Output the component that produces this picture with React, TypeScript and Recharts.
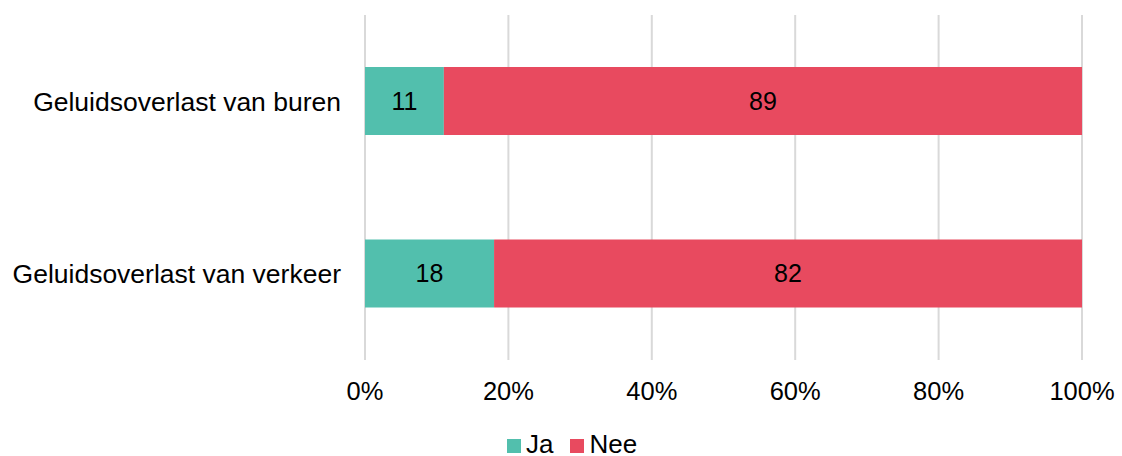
import React from "react";
import { BarChart, Bar, XAxis, YAxis, CartesianGrid, Legend, LabelList } from "recharts";

const categories = ["Geluidsoverlast van buren", "Geluidsoverlast van verkeer"];
const jaValues = [11, 18];
const neeValues = [89, 82];
const xTicks = [0, 20, 40, 60, 80, 100];

const data = categories.map((c, i) => ({ name: c, Ja: jaValues[i], Nee: neeValues[i] }));

const TEAL = "#52BFAD";
const RED = "#E84A5F";

const renderLegend = (props: any) => {
  const { payload } = props;
  return (
    <div style={{ display: "flex", alignItems: "center", height: 20 }}>
      {(payload || []).map((entry: any, i: number) => (
        <div key={i} style={{ display: "flex", alignItems: "center", marginRight: 17 }}>
          <div style={{ width: 14, height: 14, background: entry.color, marginRight: 5, position: "relative", top: 2 }} />
          <span style={{ fontSize: 26, lineHeight: "20px", color: "#000" }}>{entry.value}</span>
        </div>
      ))}
    </div>
  );
};

export default function App() {
  return (
    <div style={{ position: "absolute", left: 0, top: 0, width: 1122, height: 456, background: "#fff", fontFamily: "'Liberation Sans', Arial, sans-serif" }}>
      <BarChart
        width={1122}
        height={456}
        data={data}
        layout="vertical"
        margin={{ top: 15, right: 40, bottom: 0, left: 0 }}
      >
        <CartesianGrid horizontal={false} vertical={true} stroke="#d9d9d9" strokeWidth={2} />
        <XAxis
          type="number"
          domain={[0, 100]}
          ticks={xTicks}
          tickFormatter={(v: number) => `${v}%`}
          axisLine={false}
          tickLine={false}
          tickSize={0}
          tickMargin={22}
          height={56}
          tick={{ fill: "#000", fontSize: 25.5 }}
          interval={0}
        />
        <YAxis
          type="category"
          dataKey="name"
          width={365}
          axisLine={false}
          tickLine={false}
          tickSize={0}
          tickMargin={24}
          tick={{ fill: "#000", fontSize: 26.5 }}
        />
        <Legend
          verticalAlign="bottom"
          height={40}
          content={renderLegend}
          wrapperStyle={{ top: 434, left: 507, width: 300 }}
        />
        <Bar dataKey="Ja" stackId="a" fill={TEAL} barSize={68} isAnimationActive={false}>
          <LabelList dataKey="Ja" position="center" fill="#000" fontSize={25} />
        </Bar>
        <Bar dataKey="Nee" stackId="a" fill={RED} barSize={68} isAnimationActive={false}>
          <LabelList dataKey="Nee" position="center" fill="#000" fontSize={25} />
        </Bar>
      </BarChart>
    </div>
  );
}
